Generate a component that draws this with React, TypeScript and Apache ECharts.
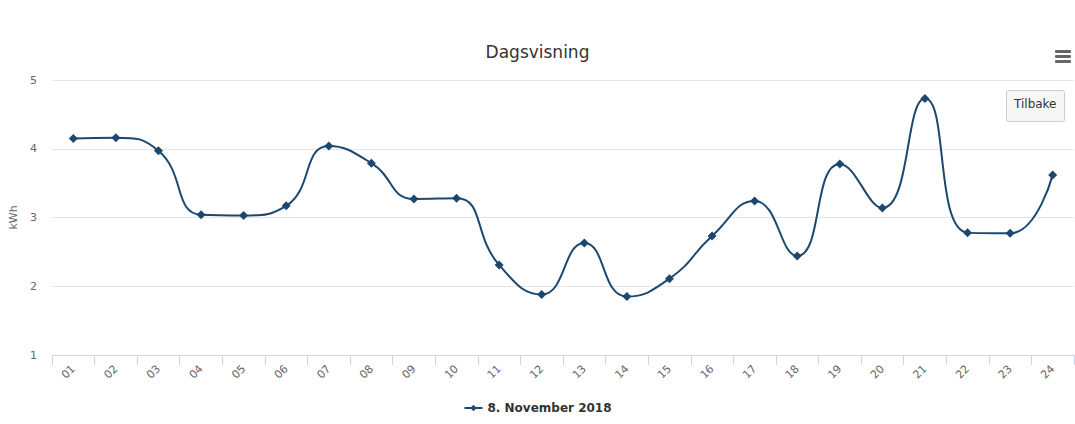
import React, { useEffect, useRef } from "react";
import * as echarts from "echarts";

const hours = ["01","02","03","04","05","06","07","08","09","10","11","12","13","14","15","16","17","18","19","20","21","22","23","24"];
const kwh = [4.15, 4.16, 3.97, 3.04, 3.03, 3.17, 4.04, 3.79, 3.27, 3.28, 2.31, 1.88, 2.63, 1.85, 2.11, 2.73, 3.24, 2.44, 3.78, 3.14, 4.73, 2.78, 2.77, 3.62];
const yTicks = [1, 2, 3, 4, 5];
const seriesName = "8. November 2018";
const titleText = "Dagsvisning";
const yAxisName = "kWh";
const buttonText = "Tilbake";

const FONT = "'DejaVu Sans', 'Lucida Grande', Arial, sans-serif";

export default function App() {
  const ref = useRef<HTMLDivElement>(null);
  useEffect(() => {
    if (!ref.current) return;
    const chart = echarts.init(ref.current, undefined, { renderer: "svg" });
    chart.setOption({
      animation: false,
      backgroundColor: "#ffffff",
      textStyle: { fontFamily: FONT },
      title: {
        text: titleText,
        left: "center",
        top: 38,
        textStyle: { fontFamily: FONT, fontSize: 17, fontWeight: "normal", color: "#333333" },
      },
      grid: { left: 50, right: 1, top: 80, bottom: 69 },
      legend: {
        bottom: 5,
        left: "center",
        itemWidth: 18,
        itemHeight: 8,
        itemGap: 6,
        textStyle: { fontFamily: FONT, fontSize: 12, fontWeight: "bold", color: "#333333" },
        data: [seriesName],
      },
      xAxis: {
        type: "category",
        data: hours,
        boundaryGap: true,
        axisLine: { lineStyle: { color: "#ccd6eb", width: 1 } },
        axisTick: { show: true, length: 10, lineStyle: { color: "#ccd6eb" } },
        axisLabel: { rotate: 45, color: "#666666", fontSize: 11, fontFamily: FONT, margin: 12 },
        splitLine: { show: false },
      },
      yAxis: {
        type: "value",
        min: yTicks[0],
        max: yTicks[yTicks.length - 1],
        interval: 1,
        name: yAxisName,
        nameLocation: "middle",
        nameGap: 33,
        nameTextStyle: { color: "#666666", fontSize: 11, fontFamily: FONT },
        axisLine: { show: false },
        axisTick: { show: false },
        axisLabel: { color: "#666666", fontSize: 11, fontFamily: FONT, margin: 15 },
        splitLine: { lineStyle: { color: "#e6e6e6", width: 1 } },
      },
      series: [
        {
          name: seriesName,
          type: "line",
          data: kwh,
          smooth: 0.5,
          symbol: "diamond",
          symbolSize: 9,
          lineStyle: { color: "#1c4870", width: 2 },
          itemStyle: { color: "#1c4870" },
        },
      ],
      graphic: [
        { type: "rect", left: 1055, top: 50, shape: { width: 16, height: 3, r: 1 }, style: { fill: "#666666" } },
        { type: "rect", left: 1055, top: 55, shape: { width: 16, height: 3, r: 1 }, style: { fill: "#666666" } },
        { type: "rect", left: 1055, top: 60, shape: { width: 16, height: 3, r: 1 }, style: { fill: "#666666" } },
        {
          type: "rect",
          left: 1006,
          top: 90,
          shape: { width: 58, height: 31, r: 2 },
          style: { fill: "#f7f7f7", stroke: "#cccccc", lineWidth: 1 },
        },
        {
          type: "text",
          left: 1014,
          top: 98,
          style: { text: buttonText, fill: "#333333", fontSize: 12, fontFamily: FONT },
        },
      ],
    });
    return () => chart.dispose();
  }, []);
  return <div ref={ref} style={{ position: "fixed", left: 0, top: 0, width: 1075, height: 424 }} />;
}
